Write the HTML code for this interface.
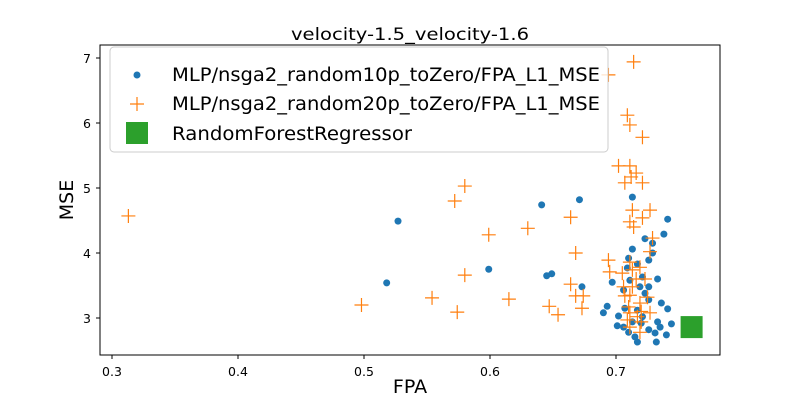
<!DOCTYPE html>
<html><head><meta charset="utf-8"><style>
body{margin:0;background:#fff}svg{display:block;font-family:"DejaVu Sans","Liberation Sans",sans-serif}
</style></head><body>
<svg id="chart" width="800" height="400">
<text x="410" y="40" text-anchor="middle" font-size="17" textLength="238" lengthAdjust="spacingAndGlyphs">velocity-1.5_velocity-1.6</text>
<rect x="100" y="45" width="620" height="310" fill="none" stroke="#000" stroke-width="1"/>
<g id="xt"></g><g id="yt"></g><g id="marks"></g>
<text x="410" y="393" text-anchor="middle" font-size="19">FPA</text>
<text x="0" y="0" transform="translate(73,200) rotate(-90)" text-anchor="middle" font-size="19">MSE</text>
<g>
<rect x="110" y="47" width="498" height="105" rx="4" fill="#fff" fill-opacity="0.8" stroke="#ccc"/>
<circle cx="137" cy="75" r="3.5" fill="#1f77b4"/>
<text x="172" y="81" font-size="18.5" textLength="428" lengthAdjust="spacingAndGlyphs">MLP/nsga2_random10p_toZero/FPA_L1_MSE</text>
<path d="M130 104h14M137 97v14" stroke="#ff7f0e" stroke-width="1.2"/>
<text x="172" y="110" font-size="18.5" textLength="428" lengthAdjust="spacingAndGlyphs">MLP/nsga2_random20p_toZero/FPA_L1_MSE</text>
<rect x="126" y="122" width="22" height="22" fill="#2ca02c"/>
<text x="172" y="140" font-size="18.5" textLength="240" lengthAdjust="spacingAndGlyphs">RandomForestRegressor</text>
</g>
</svg>
<script>
const xTicks=[0.3,0.4,0.5,0.6,0.7];
const yTicks=[3,4,5,6,7];
const blueX=[0.527,0.518,0.599,0.641,0.645,0.649,0.671,0.673,0.741,0.738,0.713,0.723,0.729,0.713,0.729,0.726,0.71,0.717,0.709,0.721,0.733,0.697,0.711,0.719,0.726,0.706,0.723,0.736,0.726,0.693,0.741,0.69,0.707,0.717,0.702,0.721,0.701,0.713,0.733,0.744,0.735,0.726,0.74,0.731,0.715,0.717,0.732,0.71,0.706,0.72];
const blueY=[4.49,3.54,3.75,4.74,3.65,3.68,4.82,3.48,4.52,4.29,4.86,4.22,4.15,4.06,4.0,3.89,3.92,3.83,3.77,3.63,3.6,3.55,3.58,3.48,3.48,3.43,3.38,3.23,3.28,3.18,3.14,3.08,3.15,3.12,3.03,3.02,2.88,2.94,2.94,2.91,2.86,2.82,2.74,2.77,2.71,2.63,2.63,2.78,2.86,2.92];
const orangeX=[0.313,0.498,0.554,0.574,0.572,0.58,0.58,0.599,0.615,0.63,0.647,0.654,0.664,0.664,0.668,0.668,0.673,0.674,0.694,0.714,0.709,0.711,0.721,0.702,0.711,0.716,0.712,0.707,0.721,0.713,0.727,0.721,0.711,0.714,0.729,0.727,0.694,0.711,0.695,0.705,0.713,0.719,0.716,0.723,0.706,0.713,0.711,0.707,0.725,0.719,0.71,0.72,0.711,0.727,0.717,0.709,0.72,0.711,0.719];
const orangeY=[4.57,3.2,3.31,3.09,4.8,5.03,3.66,4.28,3.29,4.38,3.18,3.05,4.55,3.52,4.0,3.34,3.15,3.34,6.74,6.94,6.12,5.97,5.78,5.34,5.34,5.23,5.17,5.08,5.08,4.66,4.66,4.54,4.48,4.4,4.23,4.02,3.89,3.86,3.71,3.69,3.74,3.78,3.6,3.6,3.48,3.48,3.35,3.34,3.32,3.23,3.17,3.1,3.08,3.08,3.02,2.97,2.94,2.86,2.78];
const rfX=[0.760];
const rfY=[2.86];
const sx=v=>112+(v-0.3)*1260;
const sy=v=>318-(v-3)*65;
const NS="http://www.w3.org/2000/svg";
function mk(t,a,p){const e=document.createElementNS(NS,t);for(const k in a)e.setAttribute(k,a[k]);p.appendChild(e);return e;}
const xt=document.getElementById('xt'),yt=document.getElementById('yt'),m=document.getElementById('marks');
xTicks.forEach(v=>{const x=sx(v);
const l=mk('line',{x1:x,x2:x,y1:355,y2:359,stroke:'#000'},xt);


const t=mk('text',{x:x,y:376,'text-anchor':'middle','font-size':12.5},xt);t.textContent=v.toFixed(1);

});
yTicks.forEach(v=>{const y=sy(v);
const l=mk('line',{x1:96,x2:100,y1:y,y2:y,stroke:'#000'},yt);


const t=mk('text',{x:91,y:y+5,'text-anchor':'end','font-size':12.5},yt);t.textContent=v;

});
blueX.forEach((v,i)=>{const c=mk('circle',{cx:sx(v),cy:sy(blueY[i]),r:3.5,fill:'#1f77b4'},m);

});
orangeX.forEach((v,i)=>{const x=sx(v),y=sy(orangeY[i]);
const p=mk('path',{d:`M${x-7} ${y}h14M${x} ${y-7}v14`,stroke:'#ff7f0e','stroke-width':1.2,fill:'none'},m);

});
rfX.forEach((v,i)=>{const r=mk('rect',{x:sx(v)-11,y:sy(rfY[i])-11,width:22,height:22,fill:'#2ca02c'},m);

});
</script>
</body></html>
